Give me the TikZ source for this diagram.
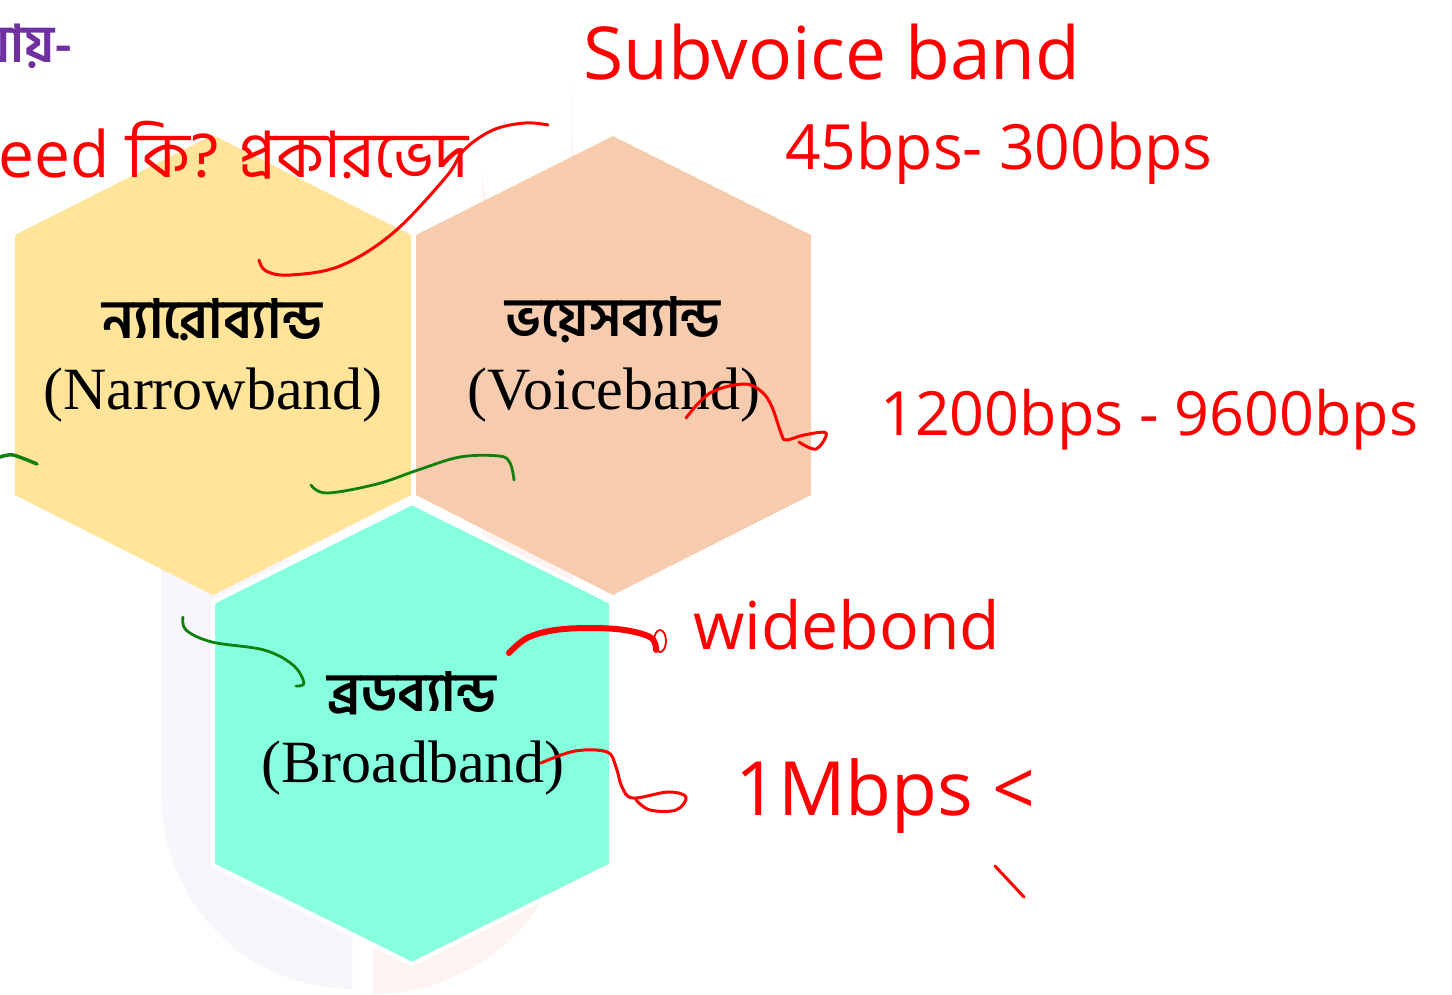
\documentclass[tikz,border=0pt]{standalone}
\usepackage{fontspec}
\usepackage{graphicx}
\setmainfont{Liberation Serif}
\newfontfamily\bn[Script=Bengali]{Hind Siliguri}
\newfontfamily\hand{Open Sans}
\definecolor{hexyellow}{HTML}{FFE49A}
\definecolor{hexpeach}{HTML}{F7CBAD}
\definecolor{hexaqua}{HTML}{86FFDF}
\definecolor{wmlav}{HTML}{F8F6FA}
\definecolor{wmpink}{HTML}{FDF4F2}
\definecolor{titlepurple}{HTML}{7030A0}
\definecolor{inkred}{HTML}{FF0000}
\definecolor{inkgreen}{HTML}{0E800E}
\tikzset{
  hexbox/.style={draw=white, line width=4pt, line join=miter},
  lab/.style={inner sep=0pt, text=black},
  bnlab/.style={lab, font=\bn\bfseries\fontsize{54}{58}\selectfont},
  enlab/.style={lab, font=\fontsize{60}{62}\selectfont},
  note/.style={text=inkred, inner sep=0pt, font=\hand},
  ink/.style={inkred, line width=3pt, line cap=round, line join=round},
  thickink/.style={inkred, line width=6pt, line cap=round, line join=round},
  gink/.style={inkgreen, line width=2.8pt, line cap=round, line join=round}
}
\begin{document}
\begin{tikzpicture}[x=1pt,y=-1pt]
\useasboundingbox (0,0) rectangle (1452,994);
\fill[white] (0,0) rectangle (1452,994);
% watermark
\fill[wmlav] (352,994) -- (352,560) -- (191,560) arc[start angle=90,end angle=180,radius=30] -- (161,794) arc[start angle=180,end angle=270,x radius=191,y radius=-195] -- cycle;
\fill[wmpink] (373,994) -- (373,700) -- (482,650) -- (482,169) arc[start angle=180,end angle=90,radius=86] -- (573,83) -- (573,794) arc[start angle=0,end angle=-90,x radius=200,y radius=-200] -- cycle;
% hexagons
\fill[hexyellow] (213,135) -- (411,235) -- (411,495) -- (213,595) -- (15,495) -- (15,235) -- cycle;
\fill[hexpeach] (613,136) -- (811,235) -- (811,495) -- (613,595) -- (416,495) -- (416,235) -- cycle;
\filldraw[hexbox, fill=hexaqua] (412,503) -- (611,602) -- (611,865) -- (412,964) -- (213,865) -- (213,602) -- cycle;
% title fragment
\node[inner sep=0pt, anchor=base west, text=titlepurple, font=\bn\bfseries\fontsize{52}{56}\selectfont] (title) at (-20,62) {যায়-};
% labels
\node[bnlab] (nbn) at (212,320) {ন্যারোব্যান্ড};
\node[enlab] (nen) at (213,395) {(Narrowband)};
\node[bnlab] (vbn) at (613,320) {ভয়েসব্যান্ড};
\node[enlab] (ven) at (614,395) {(Voiceband)};
\node[bnlab] (bbn) at (412,693) {ব্রডব্যান্ড};
\node[enlab] (ben) at (413,768) {(Broadband)};
% handwritten notes
\node[note, anchor=west] (head) at (-2,150) {\resizebox{470pt}{!}{eed {\bn কি? প্রকারভেদ}}};
\node[note, anchor=west] (sub) at (583,52) {\resizebox{497pt}{!}{Subvoice band}};
\node[note, anchor=west] (subr) at (785,153) {\resizebox{427pt}{!}{45bps- 300bps}};
\node[note, anchor=west] (vr) at (880,420) {\resizebox{538pt}{!}{1200bps - 9600bps}};
\node[note, anchor=west] (wide) at (693,625) {\resizebox{307pt}{!}{widebond}};
\node[note, anchor=west] (mb) at (735,796) {\resizebox{300pt}{!}{1Mbps <}};
% red strokes
\coordinate (r1s) at (259,260);
\coordinate (r1e) at (548,125);
\draw[ink] plot[smooth, tension=0.6] coordinates {(r1s) (266,271) (290,275) (340,266) (393,233) (446,177) (464,150) (493,130) (525,123) (r1e)};
\coordinate (r2s) at (686,418);
\coordinate (r2e) at (799,442);
\draw[ink] plot[smooth, tension=0.6] coordinates {(r2s) (710,393) (744,384) (762,392) (772,407) (781,433) (786,440) (804,435) (826,433) (816,449) (r2e)};
\coordinate (r3s) at (509,653);
\coordinate (r3e) at (656,650);
\draw[thickink] plot[smooth, tension=0.6] coordinates {(r3s) (529,637) (564,629) (616,629) (650,637) (r3e)};
\draw[ink, line width=1.8pt] (660,641) circle[x radius=6, y radius=11];
\coordinate (r4s) at (541,763);
\coordinate (r4e) at (636,800);
\draw[ink] plot[smooth, tension=0.6] coordinates {(r4s) (575,751) (607,752) (616,767) (622,787) (633,798) (668,792) (686,797) (676,810) (650,810) (r4e)};
\coordinate (r5s) at (995,866);
\coordinate (r5e) at (1024,897);
\draw[ink] (r5s) -- (r5e);
% green strokes
\coordinate (g1s) at (0,457);
\coordinate (g1e) at (37,464);
\draw[gink, line width=3.5pt] plot[smooth] coordinates {(g1s) (13,455) (g1e)};
\coordinate (g2s) at (311,485);
\coordinate (g2e) at (514,480);
\draw[gink] plot[smooth, tension=0.6] coordinates {(g2s) (327,493) (377,484) (418,470) (460,457) (499,456) (510,463) (g2e)};
\coordinate (g3s) at (183,617);
\coordinate (g3e) at (296,686);
\draw[gink] plot[smooth, tension=0.6] coordinates {(g3s) (186,630) (212,642) (264,650) (293,665) (304,683) (g3e)};
\end{tikzpicture}
\end{document}
